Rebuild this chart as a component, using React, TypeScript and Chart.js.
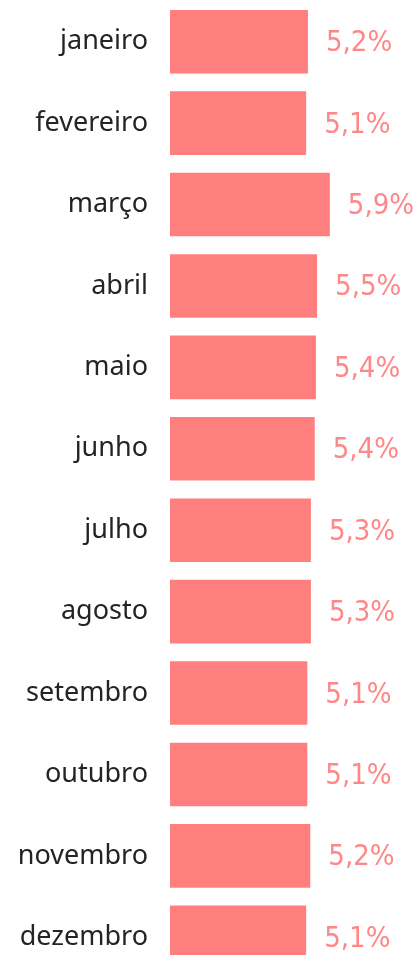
import React, { useEffect, useRef } from "react";
import { Chart, registerables } from "chart.js";

Chart.register(...registerables);

const months = [
  "janeiro", "fevereiro", "março", "abril", "maio", "junho",
  "julho", "agosto", "setembro", "outubro", "novembro", "dezembro",
];
const shares = [5.16, 5.10, 5.90, 5.47, 5.43, 5.39, 5.26, 5.26, 5.14, 5.14, 5.24, 5.10];
const shareLabels = ["5,2%", "5,1%", "5,9%", "5,5%", "5,4%", "5,4%", "5,3%", "5,3%", "5,1%", "5,1%", "5,2%", "5,1%"];

const BAR = "#FF7F7F";
const VALUE_TEXT = "#FF8787";
const CAT_TEXT = "#252423";

const valueLabels = {
  id: "valueLabels",
  afterDatasetsDraw(chart: any) {
    const ctx = chart.ctx;
    const meta = chart.getDatasetMeta(0);
    ctx.save();
    ctx.font = '29px "DejaVu Sans Condensed", "Liberation Sans Narrow", sans-serif';
    ctx.fillStyle = VALUE_TEXT;
    ctx.textAlign = "left";
    ctx.textBaseline = "middle";
    meta.data.forEach((bar: any, i: number) => {
      ctx.fillText(shareLabels[i], bar.x + 18, bar.y + 2);
    });
    ctx.restore();
  },
};

export default function App() {
  const ref = useRef<HTMLCanvasElement | null>(null);
  useEffect(() => {
    if (!ref.current) return;
    const chart = new Chart(ref.current, {
      type: "bar",
      data: {
        labels: months,
        datasets: [
          {
            data: shares,
            backgroundColor: BAR,
            borderWidth: 0,
            categoryPercentage: 1,
            barPercentage: 0.78,
          },
        ],
      },
      options: {
        indexAxis: "y",
        animation: false,
        responsive: false,
        layout: { padding: { top: 1, right: 0, bottom: 0, left: 0 } },
        plugins: { legend: { display: false }, tooltip: { enabled: false } },
        scales: {
          x: {
            display: false,
            min: 0.5,
            max: 0.5 + 248 / 29.6,
          },
          y: {
            grid: { display: false, drawTicks: false },
            border: { display: false },
            afterFit: (s: any) => {
              s.width = 170;
              s.paddingTop = 0;
              s.paddingBottom = 0;
            },
            ticks: {
              padding: 22,
              color: CAT_TEXT,
              font: { family: '"Segoe UI", "Noto Sans", sans-serif', size: 27 },
            },
          },
        },
      },
      plugins: [valueLabels],
    });
    return () => chart.destroy();
  }, []);
  return (
    <div style={{ position: "absolute", left: 0, top: 0, width: 418, height: 955, overflow: "hidden", background: "#fff" }}>
      <canvas ref={ref} width={418} height={978} style={{ display: "block" }} />
    </div>
  );
}
